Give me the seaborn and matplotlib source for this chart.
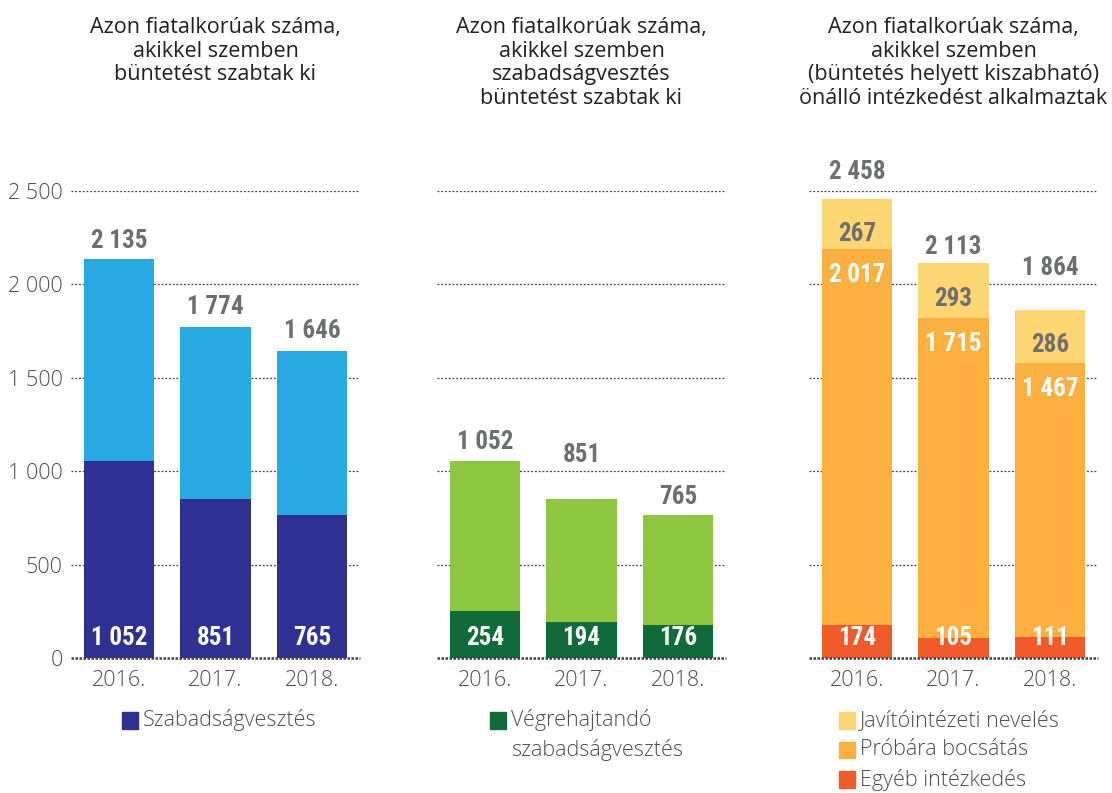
import matplotlib
matplotlib.use("Agg")
import matplotlib.pyplot as plt
import seaborn as sns
import pandas as pd
from matplotlib.patches import Rectangle
from matplotlib import font_manager

sns.set_style("white")
plt.rcParams['font.family'] = ['Open Sans', 'DejaVu Sans']

years = ['2016.', '2017.', '2018.']

# panel 1: büntetés
total_buntetes = [2135, 1774, 1646]
szabadsagvesztes = [1052, 851, 765]

# panel 2: szabadságvesztés
total_szabadsag = [1052, 851, 765]
vegrehajtando = [254, 194, 176]

# panel 3: önálló intézkedés
total_intezkedes = [2458, 2113, 1864]
javitointezeti = [267, 293, 286]
probara = [2017, 1715, 1467]
egyeb = [174, 105, 111]

titles = [
    'Azon fiatalkorúak száma,\nakikkel szemben\nbüntetést szabtak ki',
    'Azon fiatalkorúak száma,\nakikkel szemben\nszabadságvesztés\nbüntetést szabtak ki',
    'Azon fiatalkorúak száma,\nakikkel szemben\n(büntetés helyett kiszabható)\nönálló intézkedést alkalmaztak',
]

C_DBLUE = '#2e3192'
C_LBLUE = '#27aae1'
C_DGREEN = '#0f6b3a'
C_LGREEN = '#8dc63f'
C_YELLOW = '#fed672'
C_ORANGE = '#fbb040'
C_RED = '#f15a29'
C_NUM = '#6d6e71'
C_TXT = '#231f20'
C_TICK = '#4d4d4d'

# narrow bold face for the value labels (first one that has a bold style)
bold_narrow = {f.name for f in font_manager.fontManager.ttflist
               if ('Narrow' in f.name or 'Condensed' in f.name)
               and isinstance(f.weight, int) and f.weight >= 600}
pref = ['Liberation Sans Narrow', 'Roboto Condensed', 'DejaVu Sans Condensed',
        'Open Sans Condensed']
found = [n for n in pref if n in bold_narrow] + sorted(bold_narrow)
NUMFONT = (found[:1] or ['Liberation Sans']) + ['DejaVu Sans']
NUMSIZE = 18 if found else 15

fig = plt.figure(figsize=(11.12, 7.93), dpi=100)
lefts = [71 / 1112, 437 / 1112, 809 / 1112]
axes = [fig.add_axes([l, 135 / 793, 289 / 1112, 467 / 793]) for l in lefts]

# offsets (points) of the total labels above the bars
tot_off = [[13, 14, 14], [14, 32, 13], [19, 12, 30]]


def style_axis(ax, show_y):
    ax.set_ylim(0, 2500)
    ax.set_xlim(-0.5, 2.5)
    ax.set_yticks([0, 500, 1000, 1500, 2000, 2500])
    for y in [500, 1000, 1500, 2000, 2500]:
        ax.axhline(y, color='#404040', lw=0.9, ls=(0, (1.5, 1.5)), zorder=0)
    ax.axhline(0, color='#404040', lw=1.8, ls=(0, (1, 0.6)), zorder=3, clip_on=False)
    sns.despine(ax=ax, left=True, bottom=True)
    ax.tick_params(axis='both', length=0, labelsize=15.5, labelcolor=C_TICK)
    ax.tick_params(axis='x', pad=9)
    if show_y:
        ax.set_yticklabels(['0', '500', '1 000', '1 500', '2 000', '2 500'])
        ax.tick_params(axis='y', pad=6)
    else:
        ax.set_yticklabels([])
    for t in ax.get_xticklabels() + ax.get_yticklabels():
        t.set_fontweight('light')
    ax.set_xlabel('')
    ax.set_ylabel('')


def bar(ax, vals, color):
    df = pd.DataFrame({'year': years, 'v': vals})
    sns.barplot(data=df, x='year', y='v', ax=ax, color=color, width=0.73,
                saturation=1, linewidth=0, edgecolor='none', zorder=2)


def fmt(v):
    return f'{v:,}'.replace(',', ' ')


def num(ax, x, y, v, color):
    ax.text(x, y, fmt(v), ha='center', va='center', color=color, fontsize=NUMSIZE,
            fontweight='bold', family=NUMFONT, zorder=5, clip_on=False)


def totals(ax, vals, offs):
    for i, v in enumerate(vals):
        ax.annotate(fmt(v), (i, v), xytext=(0, offs[i]), textcoords='offset points',
                    ha='center', va='center', color=C_NUM, fontsize=NUMSIZE,
                    fontweight='bold', family=NUMFONT, annotation_clip=False, zorder=5)


def legend(ax, entries, x0, y0=-0.133, step=0.064):
    for i, (lab, col) in enumerate(entries):
        y = y0 - i * step
        if col is not None:
            ax.add_patch(Rectangle((x0, y - 0.018), 0.055, 0.036,
                                   transform=ax.transAxes, color=col, clip_on=False))
        ax.text(x0 + 0.073, y, lab, transform=ax.transAxes, va='center', ha='left',
                fontsize=15.5, fontweight='light', color=C_TICK)


# panel 1
ax = axes[0]
bar(ax, total_buntetes, C_LBLUE)
bar(ax, szabadsagvesztes, C_DBLUE)
style_axis(ax, True)
totals(ax, total_buntetes, tot_off[0])
for i in range(3):
    num(ax, i, 107, szabadsagvesztes[i], 'white')
legend(ax, [('Szabadságvesztés', C_DBLUE)], x0=0.176)

# panel 2
ax = axes[1]
bar(ax, total_szabadsag, C_LGREEN)
bar(ax, vegrehajtando, C_DGREEN)
style_axis(ax, False)
totals(ax, total_szabadsag, tot_off[1])
for i in range(3):
    num(ax, i, 107, vegrehajtando[i], 'white')
legend(ax, [('Végrehajtandó', C_DGREEN), ('szabadságvesztés', None)], x0=0.183)

# panel 3
ax = axes[2]
bar(ax, total_intezkedes, C_YELLOW)
bar(ax, [p + e for p, e in zip(probara, egyeb)], C_ORANGE)
bar(ax, egyeb, C_RED)
style_axis(ax, False)
totals(ax, total_intezkedes, tot_off[2])
for i in range(3):
    num(ax, i, total_intezkedes[i] - 190, javitointezeti[i], C_NUM)
    num(ax, i, probara[i] + egyeb[i] - 140, probara[i], 'white')
    num(ax, i, 107, egyeb[i], 'white')
legend(ax, [('Javítóintézeti nevelés', C_YELLOW), ('Próbára bocsátás', C_ORANGE),
            ('Egyéb intézkedés', C_RED)], x0=0.104)

for ax, title in zip(axes, titles):
    ax.text(0.5, 1 + (191 - 17) / 467, title, transform=ax.transAxes, ha='center',
            va='top', fontsize=15.5, color=C_TXT, linespacing=1.17)

fig.savefig('out.png', dpi=100)
